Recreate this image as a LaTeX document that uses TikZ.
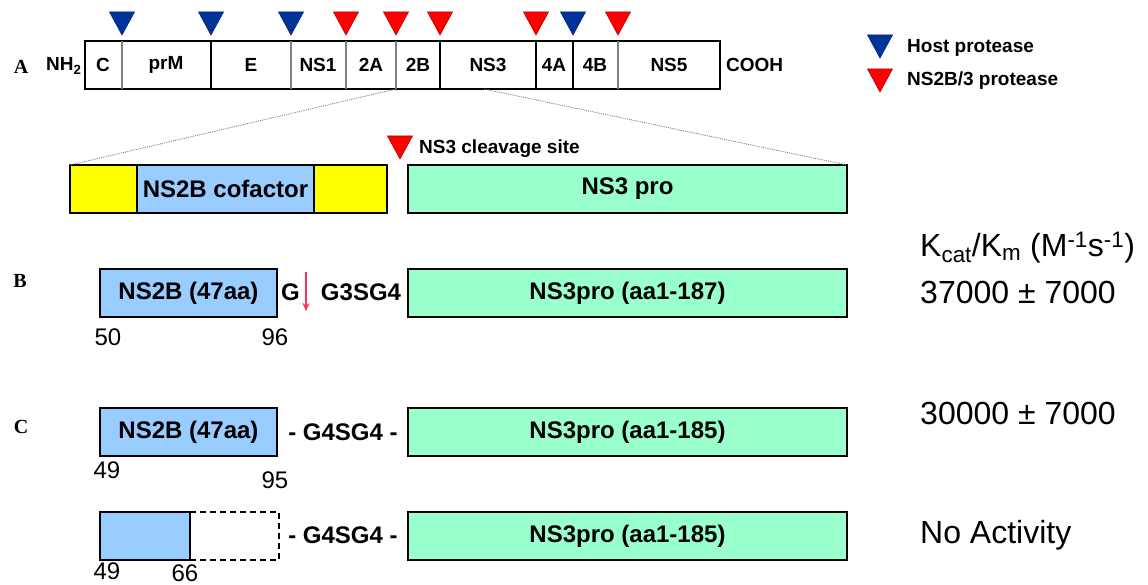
\documentclass[tikz,border=0pt]{standalone}
\usepackage{fontspec}
\setmainfont{Liberation Sans}
\newfontfamily\seriffont{Liberation Serif}
\usetikzlibrary{arrows.meta,calc}
\definecolor{hostblue}{HTML}{003399}
\definecolor{nsred}{HTML}{FF0000}
\definecolor{cofblue}{HTML}{99CCFF}
\definecolor{mint}{HTML}{99FFCC}
\definecolor{yel}{HTML}{FFFF00}
\definecolor{arrowred}{HTML}{FF3355}
\begin{document}
\begin{tikzpicture}[x=1pt,y=-1pt,
  box/.style={draw=black, line width=1.3pt, inner sep=0pt, outer sep=0pt, anchor=north west},
  seglab/.style={font=\fontsize{19}{19}\selectfont\bfseries, inner sep=0pt},
  boxlab/.style={font=\fontsize{24}{24}\selectfont\bfseries},
  numlab/.style={font=\fontsize{24}{24}\selectfont, inner sep=0pt},
  kinlab/.style={font=\fontsize{32}{32}\selectfont, inner sep=0pt, anchor=west},
  rowlab/.style={font=\seriffont\fontsize{20}{20}\selectfont\bfseries, inner sep=0pt},
  dots/.style={densely dotted, gray, line width=0.9pt},
  pics/tri/.style={code={\filldraw[fill=#1, draw=#1!75!black, line width=0.6pt] (-12.5,-23) -- (12.5,-23) -- (0,0) -- cycle;}}
]
\useasboundingbox (0,0) rectangle (1148,585);

% ---------- Panel A ----------
\node[rowlab] (labA) at (21,67) {A};
\node[seglab, anchor=west] (nh2) at (46,66) {NH\textsubscript{2}};
\node[box, minimum width=635, minimum height=48] (polyA) at (85,41) {};
\foreach \x/\c in {122/gray,211/black,291/gray,346/gray,396/gray,440/black,536/black,573/black,618/gray}
  \draw[\c, line width=1.3pt] (\x,41) -- (\x,89);
\node[seglab] (sC)   at (103,65) {C};
\node[seglab] (sprM) at (166,65) {prM};
\node[seglab] (sE)   at (251,65) {E};
\node[seglab] (sNS1) at (318,65) {NS1};
\node[seglab] (s2A)  at (371,65) {2A};
\node[seglab] (s2B)  at (418,65) {2B};
\node[seglab] (sNS3) at (488,65) {NS3};
\node[seglab] (s4A)  at (554,65) {4A};
\node[seglab] (s4B)  at (595,65) {4B};
\node[seglab] (sNS5) at (669,65) {NS5};
\node[seglab, anchor=west] (cooh) at (726,65) {COOH};

\foreach \x in {122,211,291,573} \pic at (\x,35) {tri=hostblue};
\foreach \x in {346,396,440,536,618} \pic at (\x,35) {tri=nsred};

% legend
\pic at (880,58) {tri=hostblue};
\node[seglab, anchor=west] (leghost) at (907,48) {Host protease};
\pic at (880,92) {tri=nsred};
\node[seglab, anchor=west] (legns) at (907,81) {NS2B/3 protease};

% ---------- expanded NS2B-NS3 ----------
\node[box, fill=yel, minimum width=317, minimum height=48] (yellow) at (70,165) {};
\node[box, fill=cofblue, minimum width=177, minimum height=48, boxlab] (cof) at (137,165) {NS2B cofactor};
\node[box, fill=mint, minimum width=439, minimum height=48, boxlab] (ns3a) at (408,165) {NS3 pro};
\coordinate (cut2B) at (396,89);
\coordinate (midNS3) at (484,89);
\draw[dots] (cut2B) -- (yellow.north west);
\draw[dots] (midNS3) -- (ns3a.north east);
\pic at (400,159) {tri=nsred};
\node[seglab, anchor=west] (cleave) at (419,149) {NS3 cleavage site};

% ---------- Panel B ----------
\node[rowlab] (labB) at (20,281) {B};
\node[box, fill=cofblue, minimum width=177, minimum height=48, boxlab] (ns2bB) at (100,269) {NS2B (47aa)};
\node[boxlab, inner sep=0pt, anchor=west] (gB) at (281,292) {G};
\coordinate (arrS) at (306,272);
\coordinate (arrE) at (306,311);
\draw[-{Stealth[length=8pt,width=7pt]}, arrowred, line width=1.4pt] (arrS) -- (arrE);
\node[boxlab, inner sep=0pt] (linkB) at (361,292) {G3SG4};
\node[box, fill=mint, minimum width=439, minimum height=48, boxlab] (ns3B) at (408,269) {NS3pro (aa1-187)};
\node[numlab] (n50) at (108,337) {50};
\node[numlab] (n96) at (275,337) {96};

% ---------- Panel C ----------
\node[rowlab] (labC) at (21,427) {C};
\node[box, fill=cofblue, minimum width=177, minimum height=48, boxlab] (ns2bC) at (100,408) {NS2B (47aa)};
\node[boxlab, inner sep=0pt] (linkC) at (343,432) {- G4SG4 -};
\node[box, fill=mint, minimum width=439, minimum height=48, boxlab] (ns3C) at (408,408) {NS3pro (aa1-185)};
\node[numlab] (n49a) at (107,470) {49};
\node[numlab] (n95) at (275,480) {95};

% ---------- Panel D ----------
\node[box, fill=cofblue, minimum width=90, minimum height=48] (ns2bD) at (100,512) {};
\node[box, dash pattern=on 6pt off 4pt, minimum width=89, minimum height=48] (delD) at (190,512) {};
\draw[line width=1.3pt] (ns2bD.north west) rectangle (ns2bD.south east);
\node[boxlab, inner sep=0pt] (linkD) at (343,535) {- G4SG4 -};
\node[box, fill=mint, minimum width=439, minimum height=48, boxlab] (ns3D) at (408,512) {NS3pro (aa1-185)};
\node[numlab] (n49b) at (107,571) {49};
\node[numlab] (n66) at (185,573) {66};

% ---------- kinetics ----------
\node[kinlab] (kin) at (920,248) {K\textsubscript{cat}/K\textsubscript{m} (M\textsuperscript{-1}s\textsuperscript{-1})};
\node[kinlab] (vB) at (920,292) {37000 ± 7000};
\node[kinlab] (vC) at (920,413) {30000 ± 7000};
\node[kinlab] (vD) at (920,535) {No Activity};
\end{tikzpicture}
\end{document}
